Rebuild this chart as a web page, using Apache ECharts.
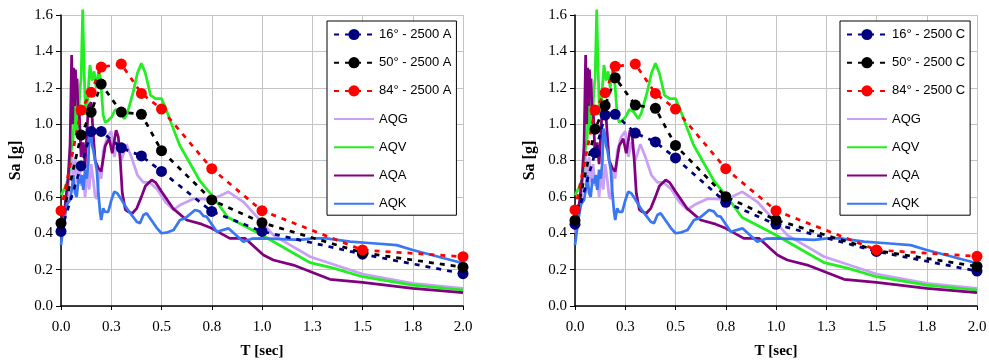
<!DOCTYPE html>
<html><head><meta charset="utf-8">
<script src="https://cdn.jsdelivr.net/npm/echarts@6/dist/echarts.min.js"></script>
<style>html,body{margin:0;padding:0;background:#fff}#c{width:989px;height:363px}</style>
</head><body><div id="c"></div>
<script>
// ---- data ----
const periods = [0, 0.1, 0.15, 0.2, 0.3, 0.4, 0.5, 0.75, 1.0, 1.5, 2.0];
const a16 = [0.41, 0.77, 0.96, 0.96, 0.87, 0.825, 0.74, 0.52, 0.41, 0.285, 0.178];
const a50 = [0.455, 0.94, 1.066, 1.22, 1.066, 1.054, 0.854, 0.583, 0.458, 0.293, 0.213];
const a84 = [0.524, 1.077, 1.175, 1.314, 1.33, 1.169, 1.083, 0.755, 0.524, 0.308, 0.271];
const c16 = [0.45, 0.843, 1.05, 1.054, 0.951, 0.902, 0.814, 0.57, 0.449, 0.30, 0.192];
const c50 = [0.471, 0.973, 1.103, 1.255, 1.105, 1.087, 0.883, 0.601, 0.473, 0.305, 0.218];
const c84 = [0.528, 1.077, 1.173, 1.318, 1.33, 1.169, 1.083, 0.755, 0.524, 0.308, 0.273];

const aqgT = [0, 0.02, 0.035, 0.05, 0.06, 0.07, 0.08, 0.09, 0.1, 0.11, 0.12, 0.13, 0.14, 0.15, 0.16, 0.17, 0.18, 0.19, 0.2, 0.21, 0.23, 0.25, 0.265, 0.28, 0.3, 0.325, 0.35, 0.38, 0.41, 0.44, 0.48, 0.52, 0.56, 0.6, 0.66, 0.72, 0.78, 0.833, 0.907, 1.0, 1.056, 1.24, 1.5, 1.75, 2.0];
const aqgSa = [0.40, 0.5, 0.62, 0.84, 0.7, 0.82, 0.68, 0.78, 0.66, 0.72, 0.6, 0.75, 0.64, 0.78, 0.7, 0.6, 0.59, 0.75, 0.7, 0.85, 0.93, 0.96, 0.82, 0.9, 0.8, 0.89, 0.82, 0.72, 0.68, 0.68, 0.64, 0.57, 0.53, 0.56, 0.59, 0.587, 0.6, 0.628, 0.573, 0.46, 0.39, 0.271, 0.176, 0.125, 0.097];

const aqvT = [0, 0.02, 0.036, 0.05, 0.06, 0.07, 0.077, 0.085, 0.095, 0.1, 0.108, 0.115, 0.122, 0.13, 0.144, 0.155, 0.165, 0.175, 0.19, 0.2, 0.21, 0.22, 0.235, 0.252, 0.27, 0.29, 0.315, 0.33, 0.36, 0.38, 0.4, 0.42, 0.445, 0.47, 0.5, 0.52, 0.55, 0.59, 0.69, 0.75, 0.83, 0.99, 1.24, 1.36, 1.5, 1.75, 2.0];
const aqvSa = [0.61, 0.65, 0.70, 0.85, 0.92, 1.15, 0.95, 1.0, 1.2, 1.25, 1.63, 1.3, 1.05, 1.1, 1.325, 1.24, 1.29, 1.2, 1.31, 1.2, 1.05, 1.01, 1.02, 1.04, 1.08, 1.07, 1.03, 1.06, 1.18, 1.28, 1.334, 1.28, 1.16, 1.14, 1.14, 1.09, 1.0, 0.885, 0.69, 0.61, 0.488, 0.396, 0.238, 0.207, 0.161, 0.115, 0.088];

const aqaT = [0, 0.02, 0.035, 0.045, 0.053, 0.058, 0.063, 0.068, 0.072, 0.076, 0.08, 0.085, 0.09, 0.095, 0.1, 0.11, 0.12, 0.136, 0.15, 0.16, 0.17, 0.185, 0.2, 0.22, 0.24, 0.255, 0.274, 0.285, 0.295, 0.305, 0.32, 0.335, 0.355, 0.377, 0.4, 0.42, 0.451, 0.47, 0.5, 0.557, 0.625, 0.7, 0.75, 0.84, 0.915, 1.007, 1.056, 1.156, 1.338, 1.5, 1.75, 2.0];
const aqaSa = [0.42, 0.55, 0.7, 0.88, 1.38, 1.0, 1.31, 1.1, 1.3, 1.15, 1.25, 1.05, 1.1, 0.95, 0.82, 0.9, 0.78, 1.096, 1.12, 0.95, 0.8, 0.76, 0.74, 0.88, 0.92, 0.84, 0.967, 0.93, 0.8, 0.62, 0.53, 0.518, 0.51, 0.537, 0.6, 0.66, 0.693, 0.68, 0.63, 0.537, 0.473, 0.45, 0.427, 0.372, 0.372, 0.28, 0.253, 0.225, 0.147, 0.13, 0.097, 0.073];

const aqkT = [0, 0.01, 0.02, 0.03, 0.045, 0.055, 0.061, 0.07, 0.078, 0.087, 0.095, 0.103, 0.111, 0.12, 0.128, 0.136, 0.141, 0.148, 0.155, 0.161, 0.17, 0.178, 0.186, 0.194, 0.2, 0.21, 0.219, 0.235, 0.25, 0.265, 0.28, 0.302, 0.327, 0.352, 0.377, 0.393, 0.41, 0.426, 0.451, 0.476, 0.5, 0.53, 0.56, 0.592, 0.617, 0.667, 0.69, 0.708, 0.725, 0.75, 0.775, 0.833, 0.87, 0.907, 0.95, 1.007, 1.1, 1.19, 1.255, 1.32, 1.438, 1.55, 1.67, 1.75, 2.0];
const aqkSa = [0.335, 0.42, 0.5, 0.56, 0.583, 0.65, 0.72, 0.62, 0.6, 0.7, 0.675, 0.72, 0.638, 0.75, 0.7, 0.785, 0.975, 0.95, 0.88, 0.857, 0.8, 0.748, 0.62, 0.52, 0.473, 0.537, 0.518, 0.518, 0.58, 0.628, 0.62, 0.583, 0.537, 0.5, 0.463, 0.455, 0.5, 0.51, 0.47, 0.43, 0.4, 0.405, 0.418, 0.473, 0.482, 0.528, 0.52, 0.495, 0.491, 0.45, 0.408, 0.427, 0.39, 0.354, 0.37, 0.372, 0.368, 0.363, 0.372, 0.372, 0.354, 0.345, 0.335, 0.308, 0.235];

const xTickLabels = ['0.0', '0.3', '0.5', '0.8', '1.0', '1.3', '1.5', '1.8', '2.0'];
const yTickLabels = ['0.0', '0.2', '0.4', '0.6', '0.8', '1.0', '1.2', '1.4', '1.6'];
const xStep = 0.25, yStep = 0.2;

const namesA = ['16° - 2500 A', '50° - 2500 A', '84° - 2500 A'];
const namesC = ['16° - 2500 C', '50° - 2500 C', '84° - 2500 C'];
const recNames = ['AQG', 'AQV', 'AQA', 'AQK'];

// ---- styles ----
const pctColors = ['#000080', '#000000', '#ff0000'];
const recColors = ['#c9a0f5', '#22ee22', '#800080', '#3a78f2'];

function pairs(xs, ys) { return xs.map((x, i) => [x, ys[i]]); }
const recData = [pairs(aqgT, aqgSa), pairs(aqvT, aqvSa), pairs(aqaT, aqaSa), pairs(aqkT, aqkSa)];

const serif = 'Liberation Serif';
const sans = 'Liberation Sans';

function xAxis(gi) {
  return {
    gridIndex: gi, type: 'value', min: 0, max: 2, interval: xStep,
    name: 'T [sec]', nameLocation: 'middle', nameGap: 38,
    nameTextStyle: { fontFamily: serif, fontWeight: 'bold', fontSize: 15, color: '#000' },
    axisLine: { show: true, onZero: false, lineStyle: { color: '#000', width: 1.5 } },
    axisTick: { show: true, inside: false, length: 4, lineStyle: { color: '#000', width: 1 } },
    axisLabel: { margin: 14, fontFamily: serif, fontSize: 15, color: '#000',
      formatter: v => xTickLabels[Math.round(v / xStep)] },
    splitLine: { show: true, lineStyle: { color: '#c4c4c4', width: 1 } }
  };
}
function yAxis(gi) {
  return {
    gridIndex: gi, type: 'value', min: 0, max: 1.6, interval: yStep,
    name: 'Sa [g]', nameLocation: 'middle', nameGap: 37, nameRotate: 90,
    nameTextStyle: { fontFamily: serif, fontWeight: 'bold', fontSize: 16, color: '#000' },
    axisLine: { show: true, lineStyle: { color: '#000', width: 1.5 } },
    axisTick: { show: true, inside: false, length: 5, lineStyle: { color: '#000', width: 1 } },
    axisLabel: { margin: 8, fontFamily: serif, fontSize: 15, color: '#000',
      formatter: v => yTickLabels[Math.round(v / yStep)] },
    splitLine: { show: true, lineStyle: { color: '#c4c4c4', width: 1 } }
  };
}

const series = [];
[0, 1].forEach(gi => {
  recNames.forEach((n, i) => {
    series.push({
      name: n, type: 'line', xAxisIndex: gi, yAxisIndex: gi, data: recData[i],
      symbol: 'none', clip: false, silent: true,
      lineStyle: { color: recColors[i], width: 2.75 }, itemStyle: { color: recColors[i] },
      emphasis: { disabled: true }
    });
  });
  const pct = gi === 0 ? [a16, a50, a84] : [c16, c50, c84];
  const nms = gi === 0 ? namesA : namesC;
  pct.forEach((vals, i) => {
    series.push({
      name: nms[i], type: 'line', xAxisIndex: gi, yAxisIndex: gi, data: pairs(periods, vals),
      symbol: 'circle', symbolSize: 11, showAllSymbol: true, silent: true,
      lineStyle: { color: pctColors[i], width: 2.75, type: [5, 6] },
      itemStyle: { color: pctColors[i], borderWidth: 0 },
      emphasis: { disabled: true }, z: 3
    });
  });
});

function legend(left, names) {
  const data = names.map(n => recNames.indexOf(n) >= 0
    ? { name: n, itemStyle: { opacity: 0 } }
    : { name: n });
  return {
    orient: 'vertical', left: left, top: 21,
    data: data, itemWidth: 40, itemHeight: 14, itemGap: 15.2,
    padding: [7, 5, 5, 6],
    backgroundColor: '#fff', borderColor: '#000', borderWidth: 1, borderRadius: 0,
    selectedMode: false,
    textStyle: { fontFamily: sans, fontSize: 13, color: '#000' }
  };
}

const chart = echarts.init(document.getElementById('c'));
chart.setOption({
  animation: false,
  backgroundColor: '#fff',
  grid: [
    { left: 61, top: 15, width: 402, height: 291, containLabel: false, outerBoundsMode: 'none' },
    { left: 575, top: 15, width: 402, height: 291, containLabel: false, outerBoundsMode: 'none' }
  ],
  xAxis: [xAxis(0), xAxis(1)],
  yAxis: [yAxis(0), yAxis(1)],
  legend: [
    legend(327, namesA.concat(recNames)),
    legend(840, namesC.concat(recNames))
  ],
  series: series
});
</script></body></html>
